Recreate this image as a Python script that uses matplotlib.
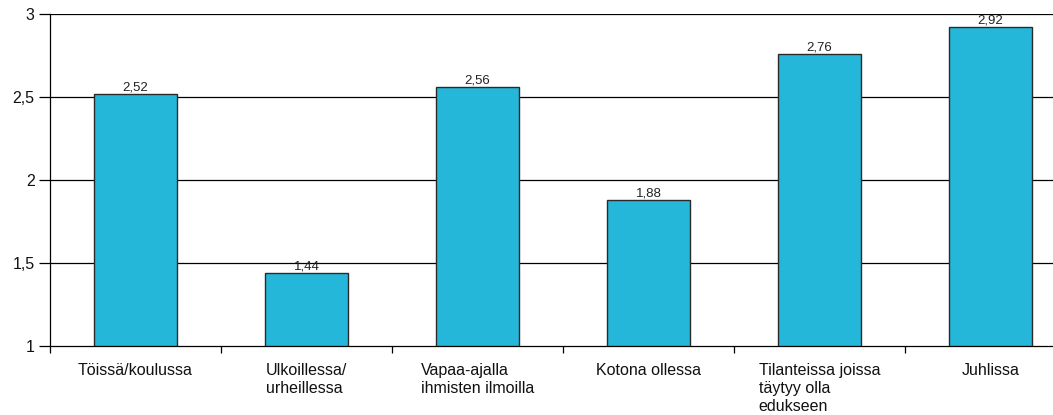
import matplotlib
matplotlib.use("Agg")
import matplotlib.pyplot as plt
import numpy as np

categories = ["Töissä/koulussa", "Ulkoillessa/\nurheillessa", "Vapaa-ajalla\nihmisten ilmoilla",
              "Kotona ollessa", "Tilanteissa joissa\ntäytyy olla\nedukseen", "Juhlissa"]
values = [2.52, 1.44, 2.56, 1.88, 2.76, 2.92]
yticks = [1, 1.5, 2, 2.5, 3]
ytick_labels = ["1", "1,5", "2", "2,5", "3"]

plt.rcParams['font.family'] = ['Liberation Sans', 'DejaVu Sans']

fig = plt.figure(figsize=(10.53, 4.15), dpi=100)
ax = fig.add_axes([50/1053, 1 - 346/415, 1026/1053, 332/415])

x = np.arange(len(categories))
bars = ax.bar(x, np.array(values) - 1, bottom=1, width=0.49, color="#25B7DA",
              edgecolor="#2a2a2a", linewidth=1.0, zorder=3)

for xi, v in zip(x, values):
    ax.text(xi, v + 0.004, f"{v:.2f}".replace(".", ","), ha="center", va="bottom",
            fontsize=9.5, color="#222222", zorder=4)

ax.set_ylim(1, 3)
ax.set_xlim(-0.5, len(categories) - 0.5)
ax.set_yticks(yticks)
ax.set_yticklabels(ytick_labels, fontsize=11.5, color="#111111")
for yv in yticks[1:]:
    ax.axhline(yv, color="black", linewidth=0.9, zorder=1)

ax.set_xticks(np.arange(len(categories) + 1) - 0.5)
ax.set_xticklabels([])
ax.tick_params(axis="x", length=5, width=0.9, direction="out")
ax.tick_params(axis="y", length=8, width=0.9, direction="out", pad=3)
for xi, lab in zip(x, categories):
    ax.text(xi, -0.052, lab, transform=ax.get_xaxis_transform(), ha="center", va="top",
            multialignment="left", fontsize=11.5, linespacing=1.22, color="#111111")

for s in ["top", "right"]:
    ax.spines[s].set_visible(False)
for s in ["left", "bottom"]:
    ax.spines[s].set_linewidth(0.9)

fig.savefig("out.png", dpi=100)
